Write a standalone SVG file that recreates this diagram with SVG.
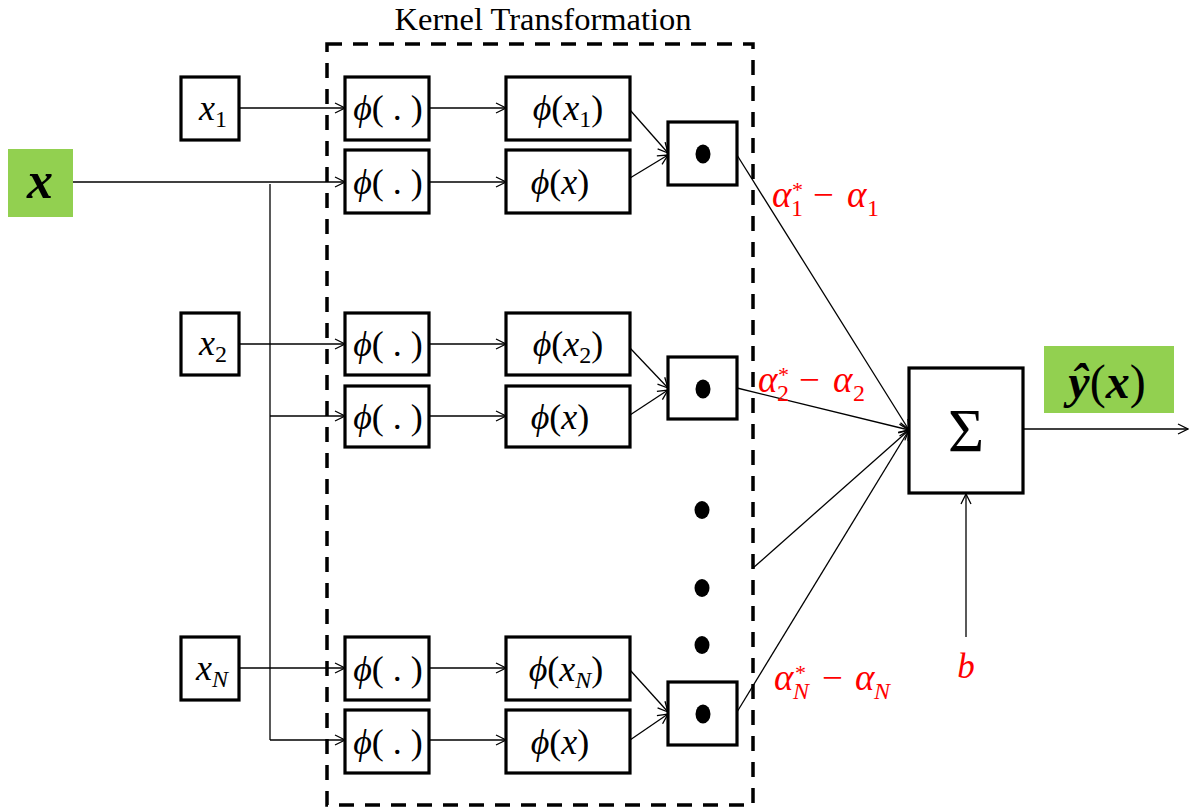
<svg xmlns="http://www.w3.org/2000/svg" width="1196" height="808" viewBox="0 0 1196 808">
<style>
.box{fill:#fff;stroke:#000;stroke-width:3.2}
.green{fill:#92D050;stroke:none}
.ln{fill:none;stroke:#000;stroke-width:1.3}
.m{font-family:"Liberation Serif","DejaVu Serif",serif;font-size:36px;fill:#000}
.i{font-style:italic}
.sub{font-size:24px}
.red{fill:#FF0000;font-family:"Liberation Serif","DejaVu Serif",serif;font-style:italic;font-size:37px}
.rs{font-size:24px}
.up{font-style:normal}
.st{font-size:22px;font-style:normal}
.dot{fill:#000}
</style>
<defs>
<marker id="ah" viewBox="0 0 12 12" refX="11" refY="6" markerWidth="12" markerHeight="12" markerUnits="userSpaceOnUse" orient="auto">
<path d="M1,1 L11,6 L1,11" fill="none" stroke="#000" stroke-width="1.3"/>
</marker>
</defs>
<rect width="1196" height="808" fill="#fff"/>

<g id="kernel">
<rect x="327" y="44" width="426" height="761" fill="none" stroke="#000" stroke-width="3.5" stroke-dasharray="15 11"/>
<text x="543" y="30" text-anchor="middle" style="font-family:'Liberation Serif',serif;font-size:32.5px">Kernel Transformation</text>
</g>

<g id="connectors">
<line class="ln" x1="73" y1="182" x2="345" y2="182" marker-end="url(#ah)"/>
<line class="ln" x1="270" y1="184" x2="270" y2="740"/>
<line class="ln" x1="270" y1="416" x2="345" y2="416" marker-end="url(#ah)"/>
<line class="ln" x1="270" y1="740" x2="345" y2="740" marker-end="url(#ah)"/>
<line class="ln" x1="239" y1="108" x2="345" y2="108" marker-end="url(#ah)"/>
<line class="ln" x1="239" y1="344" x2="345" y2="344" marker-end="url(#ah)"/>
<line class="ln" x1="239" y1="668" x2="345" y2="668" marker-end="url(#ah)"/>
<line class="ln" x1="429" y1="108" x2="506" y2="108" marker-end="url(#ah)"/>
<line class="ln" x1="429" y1="182" x2="506" y2="182" marker-end="url(#ah)"/>
<line class="ln" x1="429" y1="344" x2="506" y2="344" marker-end="url(#ah)"/>
<line class="ln" x1="429" y1="416" x2="506" y2="416" marker-end="url(#ah)"/>
<line class="ln" x1="429" y1="668" x2="506" y2="668" marker-end="url(#ah)"/>
<line class="ln" x1="429" y1="740" x2="506" y2="740" marker-end="url(#ah)"/>
<line class="ln" x1="630" y1="110" x2="668" y2="153" marker-end="url(#ah)"/>
<line class="ln" x1="630" y1="178" x2="668" y2="155" marker-end="url(#ah)"/>
<line class="ln" x1="630" y1="348" x2="668" y2="388" marker-end="url(#ah)"/>
<line class="ln" x1="630" y1="415" x2="668" y2="390" marker-end="url(#ah)"/>
<line class="ln" x1="630" y1="670" x2="668" y2="712" marker-end="url(#ah)"/>
<line class="ln" x1="630" y1="740" x2="668" y2="714" marker-end="url(#ah)"/>
<line class="ln" x1="737" y1="155" x2="909" y2="430" marker-end="url(#ah)"/>
<line class="ln" x1="737" y1="388" x2="909" y2="430" marker-end="url(#ah)"/>
<line class="ln" x1="753" y1="568" x2="909" y2="430" marker-end="url(#ah)"/>
<line class="ln" x1="737" y1="712" x2="909" y2="430" marker-end="url(#ah)"/>
<line class="ln" x1="1023" y1="429" x2="1188" y2="429" marker-end="url(#ah)"/>
<line class="ln" x1="966" y1="637" x2="966" y2="494" marker-end="url(#ah)"/>
</g>

<g id="input-x">
<rect class="green" x="8" y="149" width="65" height="68"/>
<text x="40" y="198" text-anchor="middle" style="font-family:'Liberation Serif',serif;font-size:52px;font-style:italic;font-weight:bold">x</text>
</g>

<g id="x1">
<rect class="box" x="181" y="77" width="58" height="63"/>
<text class="m" x="213" y="120" text-anchor="middle"><tspan class="i">x</tspan><tspan class="sub" dy="7">1</tspan></text>
</g>
<g id="x2">
<rect class="box" x="181" y="313" width="58" height="62"/>
<text class="m" x="213" y="355" text-anchor="middle"><tspan class="i">x</tspan><tspan class="sub" dy="7">2</tspan></text>
</g>
<g id="xN">
<rect class="box" x="181" y="637" width="58" height="63"/>
<text class="m" x="212" y="680" text-anchor="middle"><tspan class="i">x</tspan><tspan class="sub i" dy="7">N</tspan></text>
</g>

<g id="phi1a"><rect class="box" x="345" y="77" width="84" height="63"/><text class="m" x="388" y="120" text-anchor="middle"><tspan class="i">ϕ</tspan>( . )</text></g>
<g id="phi1b"><rect class="box" x="345" y="150" width="84" height="63"/><text class="m" x="388" y="194" text-anchor="middle"><tspan class="i">ϕ</tspan>( . )</text></g>
<g id="phi2a"><rect class="box" x="345" y="313" width="84" height="62"/><text class="m" x="388" y="356" text-anchor="middle"><tspan class="i">ϕ</tspan>( . )</text></g>
<g id="phi2b"><rect class="box" x="345" y="386" width="84" height="61"/><text class="m" x="388" y="429" text-anchor="middle"><tspan class="i">ϕ</tspan>( . )</text></g>
<g id="phiNa"><rect class="box" x="345" y="637" width="84" height="63"/><text class="m" x="388" y="681" text-anchor="middle"><tspan class="i">ϕ</tspan>( . )</text></g>
<g id="phiNb"><rect class="box" x="345" y="710" width="84" height="63"/><text class="m" x="388" y="754" text-anchor="middle"><tspan class="i">ϕ</tspan>( . )</text></g>

<g id="phix1"><rect class="box" x="506" y="77" width="124" height="63"/><text class="m" x="568" y="120" text-anchor="middle"><tspan class="i">ϕ</tspan>(<tspan class="i">x</tspan><tspan class="sub" dy="7">1</tspan><tspan dy="-7">)</tspan></text></g>
<g id="phix1b"><rect class="box" x="506" y="150" width="124" height="63"/><text class="m" x="560" y="194" text-anchor="middle"><tspan class="i">ϕ</tspan>(<tspan class="i">x</tspan>)</text></g>
<g id="phix2"><rect class="box" x="506" y="313" width="124" height="62"/><text class="m" x="568" y="356" text-anchor="middle"><tspan class="i">ϕ</tspan>(<tspan class="i">x</tspan><tspan class="sub" dy="7">2</tspan><tspan dy="-7">)</tspan></text></g>
<g id="phix2b"><rect class="box" x="506" y="386" width="124" height="61"/><text class="m" x="560" y="429" text-anchor="middle"><tspan class="i">ϕ</tspan>(<tspan class="i">x</tspan>)</text></g>
<g id="phixN"><rect class="box" x="506" y="637" width="124" height="63"/><text class="m" x="566" y="681" text-anchor="middle"><tspan class="i">ϕ</tspan>(<tspan class="i">x</tspan><tspan class="sub i" dy="7">N</tspan><tspan dy="-7">)</tspan></text></g>
<g id="phixNb"><rect class="box" x="506" y="710" width="124" height="63"/><text class="m" x="560" y="754" text-anchor="middle"><tspan class="i">ϕ</tspan>(<tspan class="i">x</tspan>)</text></g>

<g id="dot1"><rect class="box" x="668" y="122" width="69" height="63"/><ellipse class="dot" cx="703" cy="154" rx="7.5" ry="9.5"/></g>
<g id="dot2"><rect class="box" x="668" y="357" width="69" height="62"/><ellipse class="dot" cx="703" cy="389" rx="7.5" ry="9.5"/></g>
<g id="dotN"><rect class="box" x="668" y="682" width="69" height="63"/><ellipse class="dot" cx="703" cy="714" rx="7.5" ry="9.5"/></g>

<g id="ellipsis">
<ellipse class="dot" cx="702" cy="510" rx="7.5" ry="9"/>
<ellipse class="dot" cx="702" cy="588" rx="7.5" ry="9"/>
<ellipse class="dot" cx="702" cy="645" rx="7.5" ry="9"/>
</g>

<g id="sum">
<rect class="box" x="909" y="368" width="114" height="125"/>
<text x="966" y="451" text-anchor="middle" style="font-family:'Liberation Serif',serif;font-size:62px">Σ</text>
</g>

<g id="output">
<rect class="green" x="1044" y="346" width="130" height="67"/>
<text x="1107" y="398" text-anchor="middle" style="font-family:'Liberation Serif',serif;font-size:48px"><tspan style="font-style:italic;font-weight:bold">ŷ</tspan>(<tspan style="font-style:italic;font-weight:bold">x</tspan>)</text>
</g>

<g id="labels">
<text class="red"><tspan x="772" y="207">α</tspan><tspan class="st" x="792" y="197">*</tspan><tspan class="rs up" x="791" y="216">1</tspan><tspan class="up" x="813" y="207">−</tspan><tspan x="847" y="207">α</tspan><tspan class="rs up" x="867" y="216">1</tspan></text>
<text class="red"><tspan x="758" y="392">α</tspan><tspan class="st" x="778" y="382">*</tspan><tspan class="rs up" x="777" y="401">2</tspan><tspan class="up" x="799" y="392">−</tspan><tspan x="833" y="392">α</tspan><tspan class="rs up" x="853" y="401">2</tspan></text>
<text class="red"><tspan x="774" y="690">α</tspan><tspan class="st" x="795" y="680">*</tspan><tspan class="rs" x="793" y="699">N</tspan><tspan class="up" x="822" y="690">−</tspan><tspan x="855" y="690">α</tspan><tspan class="rs" x="874" y="699">N</tspan></text>
<text class="red" x="966" y="678" text-anchor="middle" style="font-size:35px">b</text>
</g>
</svg>
